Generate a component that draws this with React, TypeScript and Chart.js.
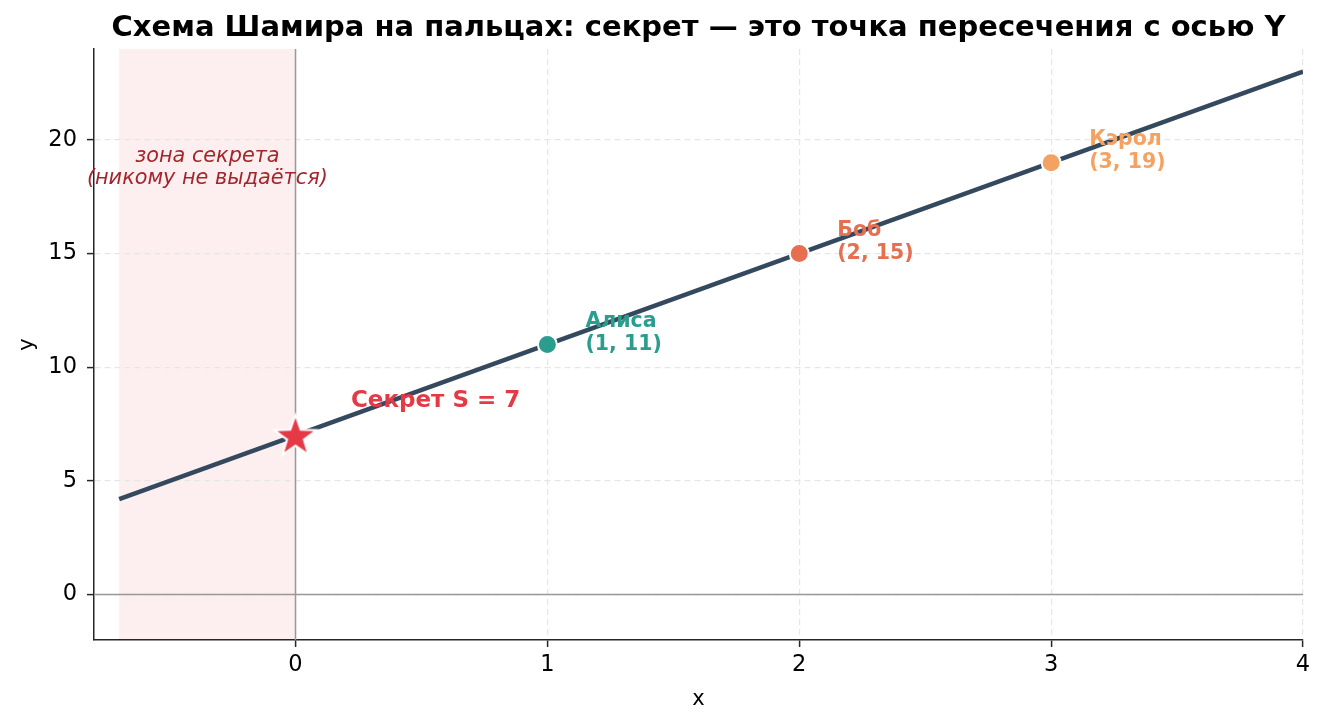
import { useEffect, useRef } from 'react';
import { Chart, registerables } from 'chart.js';

Chart.register(...registerables);

const TITLE = 'Схема Шамира на пальцах: секрет — это точка пересечения с осью Y';
const X_LABEL = 'x';
const Y_LABEL = 'y';

const X_RANGE = [-0.8, 4];
const Y_RANGE = [-2, 24];
const X_TICKS = [0, 1, 2, 3, 4];
const Y_TICKS = [0, 5, 10, 15, 20];

const LINE_X = [-0.7, 4];
const LINE_Y = [4.2, 23];

const SHARE_NAMES = ['Алиса', 'Боб', 'Кэрол'];
const SHARE_X = [1, 2, 3];
const SHARE_Y = [11, 15, 19];
const SHARE_COLORS = ['#2a9d8f', '#e76f51', '#f4a261'];

const SECRET_X = [0];
const SECRET_Y = [7];
const SECRET_LABEL = 'Секрет S = 7';
const SECRET_LABEL_POS = [0.22, 8.5];

const ZONE = [-0.7, 0];
const ZONE_TEXT = ['зона секрета', '(никому не выдаётся)'];
const ZONE_TEXT_POS = [-0.35, 18.77];

const FONT = '"DejaVu Sans", "Liberation Sans", sans-serif';
const LINE_COLOR = '#34495e';
const SECRET_COLOR = '#e63946';
const ZONE_TEXT_COLOR = '#a4262c';
const AXIS_COLOR = '#262626';

function makeStar(): HTMLCanvasElement {
  const c = document.createElement('canvas');
  const size = 52;
  c.width = size;
  c.height = size;
  const ctx = c.getContext('2d')!;
  const cx = size / 2;
  const cy = size / 2 + 1.5;
  const outer = 19;
  const inner = 7.6;
  ctx.beginPath();
  for (let i = 0; i < 10; i++) {
    const r = i % 2 === 0 ? outer : inner;
    const a = -Math.PI / 2 + (i * Math.PI) / 5;
    const px = cx + r * Math.cos(a);
    const py = cy + r * Math.sin(a);
    if (i === 0) ctx.moveTo(px, py);
    else ctx.lineTo(px, py);
  }
  ctx.closePath();
  ctx.lineJoin = 'miter';
  ctx.lineWidth = 4;
  ctx.strokeStyle = '#ffffff';
  ctx.stroke();
  ctx.fillStyle = SECRET_COLOR;
  ctx.fill();
  return c;
}

const overlayPlugin = {
  id: 'overlay',
  beforeDraw(chart: any) {
    const { ctx, chartArea, scales } = chart;
    const x = scales.x;
    const x0 = x.getPixelForValue(ZONE[0]);
    const x1 = x.getPixelForValue(ZONE[1]);
    ctx.save();
    ctx.fillStyle = 'rgba(230,57,70,0.08)';
    ctx.fillRect(x0, chartArea.top, x1 - x0, chartArea.bottom - chartArea.top);
    ctx.restore();
  },
  beforeDatasetsDraw(chart: any) {
    const { ctx, chartArea, scales } = chart;
    const px = scales.x.getPixelForValue(0);
    const py = scales.y.getPixelForValue(0);
    ctx.save();
    ctx.strokeStyle = '#999999';
    ctx.lineWidth = 1.5;
    ctx.beginPath();
    ctx.moveTo(px, chartArea.top);
    ctx.lineTo(px, chartArea.bottom);
    ctx.moveTo(chartArea.left, py);
    ctx.lineTo(chartArea.right, py);
    ctx.stroke();
    ctx.restore();
  },
  afterDatasetsDraw(chart: any) {
    const { ctx, chartArea, scales } = chart;
    const sx = scales.x;
    const sy = scales.y;
    ctx.save();
    // zone text
    ctx.fillStyle = ZONE_TEXT_COLOR;
    ctx.font = `italic 20.8px ${FONT}`;
    ctx.textAlign = 'center';
    ctx.textBaseline = 'middle';
    const zx = sx.getPixelForValue(ZONE_TEXT_POS[0]);
    const zy = sy.getPixelForValue(ZONE_TEXT_POS[1]);
    ctx.fillText(ZONE_TEXT[0], zx, zy - 11);
    ctx.fillText(ZONE_TEXT[1], zx, zy + 11);
    // share labels
    ctx.textAlign = 'left';
    ctx.font = `bold 20.5px ${FONT}`;
    SHARE_NAMES.forEach((name, i) => {
      const px = sx.getPixelForValue(SHARE_X[i]) + 38;
      const py = sy.getPixelForValue(SHARE_Y[i]);
      ctx.fillStyle = SHARE_COLORS[i];
      ctx.fillText(name, px, py - 23);
      ctx.fillText(`(${SHARE_X[i]}, ${SHARE_Y[i]})`, px, py);
    });
    // secret label
    ctx.fillStyle = SECRET_COLOR;
    ctx.font = `bold 23px ${FONT}`;
    ctx.fillText(SECRET_LABEL, sx.getPixelForValue(SECRET_LABEL_POS[0]), sy.getPixelForValue(SECRET_LABEL_POS[1]));
    // title
    ctx.fillStyle = '#000000';
    ctx.font = `bold 29px ${FONT}`;
    ctx.textAlign = 'center';
    ctx.fillText(TITLE, (chartArea.left + chartArea.right) / 2, 28);
    ctx.restore();
  },
};

export default function App() {
  const ref = useRef<HTMLCanvasElement>(null);
  useEffect(() => {
    document.body.style.margin = '0';
    const canvas = ref.current!;
    const star = makeStar();
    const tickFont = { family: FONT, size: 22.5 };
    const chart = new Chart(canvas, {
      type: 'scatter',
      data: {
        datasets: [
          {
            data: LINE_X.map((x, i) => ({ x, y: LINE_Y[i] })),
            showLine: true,
            borderColor: LINE_COLOR,
            borderWidth: 4.5,
            pointRadius: 0,
            pointHoverRadius: 0,
            order: 3,
          } as any,
          {
            data: SHARE_X.map((x, i) => ({ x, y: SHARE_Y[i] })),
            backgroundColor: SHARE_COLORS,
            borderColor: '#ffffff',
            borderWidth: 2,
            pointRadius: 9.5,
            order: 1,
          },
          {
            data: SECRET_X.map((x, i) => ({ x, y: SECRET_Y[i] })),
            pointStyle: star,
            pointRadius: 20,
            order: 0,
          } as any,
        ],
      },
      options: {
        responsive: false,
        animation: false,
        devicePixelRatio: 1,
        events: [],
        layout: { padding: { top: 49, right: 23, left: 0, bottom: 0 } },
        plugins: { legend: { display: false }, tooltip: { enabled: false }, title: { display: false } },
        scales: {
          x: {
            type: 'linear',
            min: X_RANGE[0],
            max: X_RANGE[1],
            afterBuildTicks: (s: any) => { s.ticks = X_TICKS.map((v) => ({ value: v })); },
            afterFit: (s: any) => { s.height = 86; },
            ticks: { font: tickFont, color: '#000000', padding: 5, maxRotation: 0 },
            grid: { color: '#e6e6e6', lineWidth: 1.2, drawTicks: true, tickLength: 7, tickColor: AXIS_COLOR, tickWidth: 1.5 },
            border: { display: true, color: AXIS_COLOR, width: 1.5, dash: [6, 4] },
            title: { display: true, text: X_LABEL, font: { family: FONT, size: 21 }, color: '#000000', padding: { top: 2, bottom: 14 } },
          },
          y: {
            type: 'linear',
            min: Y_RANGE[0],
            max: Y_RANGE[1],
            afterBuildTicks: (s: any) => { s.ticks = Y_TICKS.map((v) => ({ value: v })); },
            afterFit: (s: any) => { s.width = 94; },
            ticks: { font: tickFont, color: '#000000', padding: 10 },
            grid: { color: '#e6e6e6', lineWidth: 1.2, drawTicks: true, tickLength: 7, tickColor: AXIS_COLOR, tickWidth: 1.5 },
            border: { display: true, color: AXIS_COLOR, width: 1.5, dash: [6, 4] },
            title: { display: true, text: Y_LABEL, font: { family: FONT, size: 21 }, color: '#000000', padding: { top: 15, bottom: 0 } },
          },
        },
      },
      plugins: [overlayPlugin],
    } as any);
    return () => chart.destroy();
  }, []);
  return <canvas ref={ref} width={1326} height={726} style={{ display: 'block' }} />;
}
